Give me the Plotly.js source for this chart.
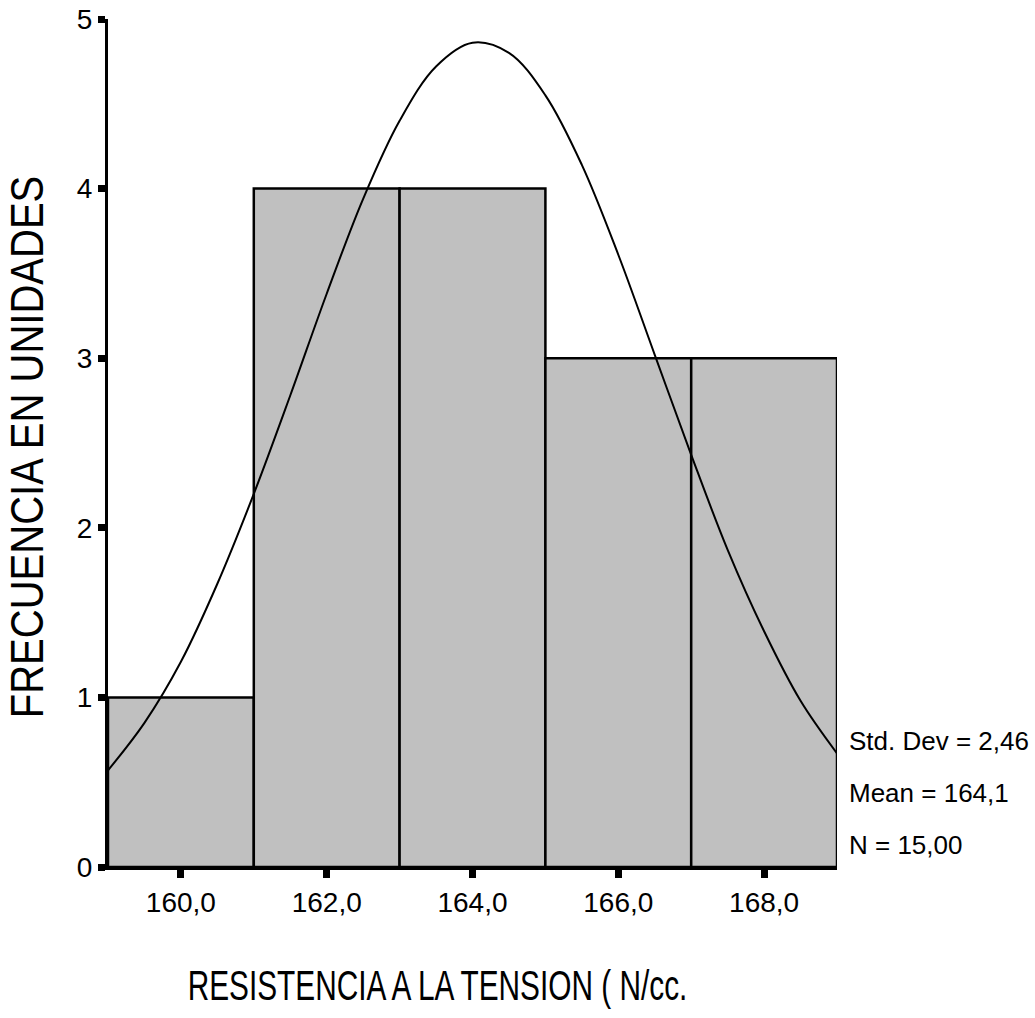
<!DOCTYPE html>
<html>
<head>
<meta charset="utf-8">
<script src="https://cdn.plot.ly/plotly-3.0.1.min.js"></script>
<style>
  html, body { margin: 0; padding: 0; background: #fff; }
  #chart { width: 1035px; height: 1018px; }
  .xtitle { transform-box: fill-box; transform-origin: center; transform: translate(-35px, 3px) scaleX(0.71); }
  .ytitle { transform-box: fill-box; transform-origin: center; transform: translate(-5px, 20px) rotate(-90deg) scaleX(0.87); }
</style>
</head>
<body>
<div id="chart"></div>
<script>
// Histogram bins (centers, width 2) and frequencies
const binCenters = [160, 162, 164, 166, 168];
const binWidths = [2, 2, 2, 2, 2];
const frequencies = [1, 4, 4, 3, 3];

// Normal curve
const curveX = [159, 159.5, 160, 160.5, 161, 161.5, 162, 162.5, 163, 163.5, 164, 164.5, 165, 165.5, 166, 166.5, 167, 167.5, 168, 168.5, 169];
const curveY = [0.57, 0.85, 1.21, 1.67, 2.20, 2.78, 3.38, 3.94, 4.40, 4.72, 4.86, 4.80, 4.55, 4.14, 3.61, 3.02, 2.43, 1.87, 1.39, 0.98, 0.67];

// Tick labels
const xTickVals = [160, 162, 164, 166, 168];
const xTickText = ['160,0', '162,0', '164,0', '166,0', '168,0'];
const yTickVals = [0, 1, 2, 3, 4, 5];
const yTickText = ['0', '1', '2', '3', '4', '5'];

// Summary statistics text
const statsText = ['Std. Dev = 2,46', 'Mean = 164,1', 'N = 15,00'];

const xTitle = 'RESISTENCIA A LA TENSION ( N/cc.';
const yTitle = 'FRECUENCIA EN UNIDADES';

const FONT = 'Liberation Sans, Arial, sans-serif';

const traces = [
  {
    type: 'bar',
    x: binCenters,
    y: frequencies,
    width: binWidths,
    marker: { color: '#c0c0c0', line: { color: '#000', width: 2.5 } },
    hoverinfo: 'skip'
  },
  {
    type: 'scatter',
    mode: 'lines',
    x: curveX,
    y: curveY,
    line: { color: '#000', width: 2, shape: 'spline' },
    hoverinfo: 'skip'
  }
];

// Layout positions of the statistics block (paper coords, spaced 52px apart)
const statsTop = 0.149;
const statsStep = 52 / 848;
const annotations = statsText.map((t, i) => ({
  xref: 'paper', yref: 'paper',
  x: 1.0, y: statsTop - i * statsStep,
  xshift: 10,
  xanchor: 'left', yanchor: 'middle',
  text: t, showarrow: false,
  font: { family: FONT, size: 26, color: '#000' }
}));

const layout = {
  width: 1035, height: 1018,
  margin: { l: 108, r: 198, t: 19, b: 151 },
  paper_bgcolor: '#fff', plot_bgcolor: '#fff',
  showlegend: false,
  bargap: 0,
  font: { family: FONT, color: '#000' },
  xaxis: {
    range: [159, 169],
    tickvals: xTickVals, ticktext: xTickText,
    showline: true, linecolor: '#000', linewidth: 3,
    ticks: 'outside', ticklen: 8, tickwidth: 7, tickcolor: '#000',
    showgrid: false, zeroline: false,
    tickfont: { family: FONT, size: 28, color: '#000' },
    title: { text: xTitle, font: { family: FONT, size: 42, color: '#000' }, standoff: 52 }
  },
  yaxis: {
    range: [0, 5],
    tickvals: yTickVals, ticktext: yTickText,
    showline: true, linecolor: '#000', linewidth: 3,
    ticks: 'outside', ticklen: 7, tickwidth: 7, tickcolor: '#000',
    showgrid: false, zeroline: false,
    tickfont: { family: FONT, size: 28, color: '#000' },
    title: { text: yTitle, font: { family: FONT, size: 46, color: '#000' }, standoff: 30 }
  },
  annotations: annotations
};

Plotly.newPlot('chart', traces, layout, { staticPlot: true, displayModeBar: false });
</script>
</body>
</html>
